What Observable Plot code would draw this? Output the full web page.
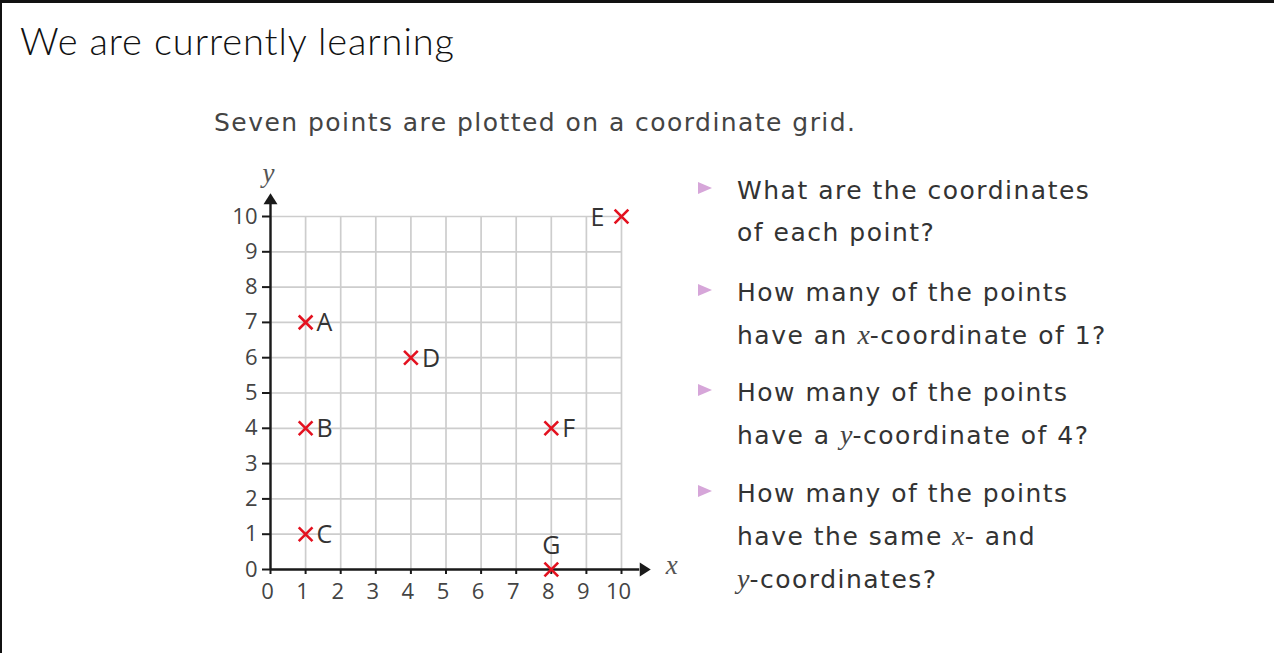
<!DOCTYPE html>
<html>
<head>
<meta charset="utf-8">
<script src="https://cdn.jsdelivr.net/npm/d3@7"></script>
<script src="https://cdn.jsdelivr.net/npm/@observablehq/plot@0.6"></script>
<style>
  html, body { margin: 0; padding: 0; background: #fff; }
  body { width: 1274px; height: 653px; position: relative; overflow: hidden; font-family: "Open Sans", sans-serif; }
  .frame-top { position: absolute; left: 0; top: 0; width: 1274px; height: 3px; background: #111; }
  .frame-left { position: absolute; left: 0; top: 0; width: 2px; height: 653px; background: #111; }
  .title { position: absolute; left: 20px; top: 18px; font-family: "Lato", sans-serif; font-weight: 300; font-size: 38px; letter-spacing: 0.9px; line-height: 44px; color: #111; white-space: nowrap; }
  .subtitle { position: absolute; left: 214px; top: 102px; font-family: "DejaVu Sans", sans-serif; font-size: 25px; letter-spacing: 1.45px; line-height: 42px; color: #444; white-space: nowrap; }
  .q { position: absolute; left: 737px; font-family: "DejaVu Sans", sans-serif; font-size: 25px; letter-spacing: 1.5px; line-height: 42px; color: #333; white-space: nowrap; }
  .q i { font-family: "Liberation Serif", serif; font-style: italic; font-size: 28px; letter-spacing: 0; color: #444; }
  .tri { position: absolute; left: 698px; width: 0; height: 0; border-top: 6.5px solid transparent; border-bottom: 6.5px solid transparent; border-left: 14px solid #d6a6d9; }
  #chart { position: absolute; left: 200px; top: 150px; }
  #chart svg { overflow: visible; }
  #chart g[aria-label="x-axis tick label"] text, #chart g[aria-label="y-axis tick label"] text { fill: #444; }
</style>
</head>
<body>
<div class="frame-top"></div>
<div class="frame-left"></div>
<div class="title">We are currently learning</div>
<div class="subtitle">Seven points are plotted on a coordinate grid.</div>

<div class="tri" style="top:182px"></div>
<div class="q" style="top:170px">What are the coordinates<br>of each point?</div>
<div class="tri" style="top:284px"></div>
<div class="q" style="top:272px">How many of the points<br>have an <i>x</i>-coordinate of 1?</div>
<div class="tri" style="top:384px"></div>
<div class="q" style="top:372px">How many of the points<br>have a <i>y</i>-coordinate of 4?</div>
<div class="tri" style="top:485px"></div>
<div class="q" style="top:473px">How many of the points<br>have the same <i>x</i>- and<br><i>y</i>-coordinates?</div>

<div id="chart"></div>

<script>
// ---- data ----
const pointLabels = ["A", "B", "C", "D", "E", "F", "G"];
const xValues = [1, 1, 1, 4, 10, 8, 8];
const yValues = [7, 4, 1, 6, 10, 4, 0];
const tickValues = [0, 1, 2, 3, 4, 5, 6, 7, 8, 9, 10];
const xAxisEnd = 10.52;   // where the x-axis line stops (arrow base)
const yAxisEnd = 10.35;   // where the y-axis line stops (arrow base)
const xAxisName = "x";
const yAxisName = "y";

const points = pointLabels.map((label, i) => ({label, x: xValues[i], y: yValues[i]}));

// label placement style by letter
const leftLabels = new Set(["E"]);
const aboveLabels = new Set(["G"]);
const rightPts = points.filter(d => !leftLabels.has(d.label) && !aboveLabels.has(d.label));
const leftPts = points.filter(d => leftLabels.has(d.label));
const abovePts = points.filter(d => aboveLabels.has(d.label));

// arrowhead symbols (base at anchor, tip pointing outward)
const arrowRight = {draw(ctx) { ctx.moveTo(11, 0); ctx.lineTo(0, -7); ctx.lineTo(0, 7); ctx.closePath(); }};
const arrowUp = {draw(ctx) { ctx.moveTo(0, -11); ctx.lineTo(-7, 0); ctx.lineTo(7, 0); ctx.closePath(); }};

const axisColor = "#1a1a1a";
const gridColor = "#cdcdcd";
const red = "#e3111f";

const chart = Plot.plot({
  width: 500,
  height: 470,
  marginLeft: 70,
  marginRight: 79,
  marginTop: 66,
  marginBottom: 51,
  x: {domain: [0, 10]},
  y: {domain: [0, 10]},
  style: {fontFamily: "'Open Sans', sans-serif", background: "transparent", overflow: "visible"},
  marks: [
    Plot.ruleX(tickValues, {x: d => d, y1: 0, y2: 10, stroke: gridColor, strokeWidth: 1.7}),
    Plot.ruleY(tickValues, {y: d => d, x1: 0, x2: 10, stroke: gridColor, strokeWidth: 1.7}),
    // x ticks (marks only) and x tick labels (slightly offset left, as in the original)
    Plot.axisX({ticks: tickValues, tickSize: 5, text: null, stroke: axisColor, strokeWidth: 2, label: null}),
    Plot.axisX({ticks: tickValues, tickSize: 0, tickPadding: 14, fontSize: 22, dx: -3, label: null, tickFormat: d => String(d)}),
    Plot.axisY({ticks: tickValues, tickSize: 8, tickPadding: 5, fontSize: 22, stroke: axisColor, strokeWidth: 2, label: null, tickFormat: d => String(d)}),
    Plot.ruleY([0], {y: d => d, x1: 0, x2: xAxisEnd, stroke: axisColor, strokeWidth: 2.4}),
    Plot.ruleX([0], {x: d => d, y1: 0, y2: yAxisEnd, stroke: axisColor, strokeWidth: 2.4}),
    Plot.dot([xAxisEnd], {x: d => d, y: () => 0, symbol: arrowRight, fill: axisColor, stroke: null}),
    Plot.dot([yAxisEnd], {x: () => 0, y: d => d, symbol: arrowUp, fill: axisColor, stroke: null}),
    Plot.text([xAxisName], {x: () => xAxisEnd, y: () => 0, text: d => d, dx: 32, dy: -4, fontFamily: "'Liberation Serif', serif", fontStyle: "italic", fontSize: 27, fill: "#555", lineAnchor: "middle"}),
    Plot.text([yAxisName], {x: () => 0, y: () => yAxisEnd, text: d => d, dx: -2, dy: -31, fontFamily: "'Liberation Serif', serif", fontStyle: "italic", fontSize: 27, fill: "#555", lineAnchor: "middle"}),
    Plot.dot(points, {x: "x", y: "y", symbol: "times", r: 6.3, stroke: red, strokeWidth: 2.6}),
    Plot.text(rightPts, {x: "x", y: "y", text: "label", textAnchor: "start", dx: 11, dy: 1, fontSize: 25, fill: "#333", lineAnchor: "middle"}),
    Plot.text(leftPts, {x: "x", y: "y", text: "label", textAnchor: "end", dx: -17, dy: 1, fontSize: 25, fill: "#333", lineAnchor: "middle"}),
    Plot.text(abovePts, {x: "x", y: "y", text: "label", textAnchor: "middle", dy: -24, fontSize: 25, fill: "#333", lineAnchor: "middle"})
  ]
});
document.getElementById("chart").appendChild(chart);
</script>
</body>
</html>
